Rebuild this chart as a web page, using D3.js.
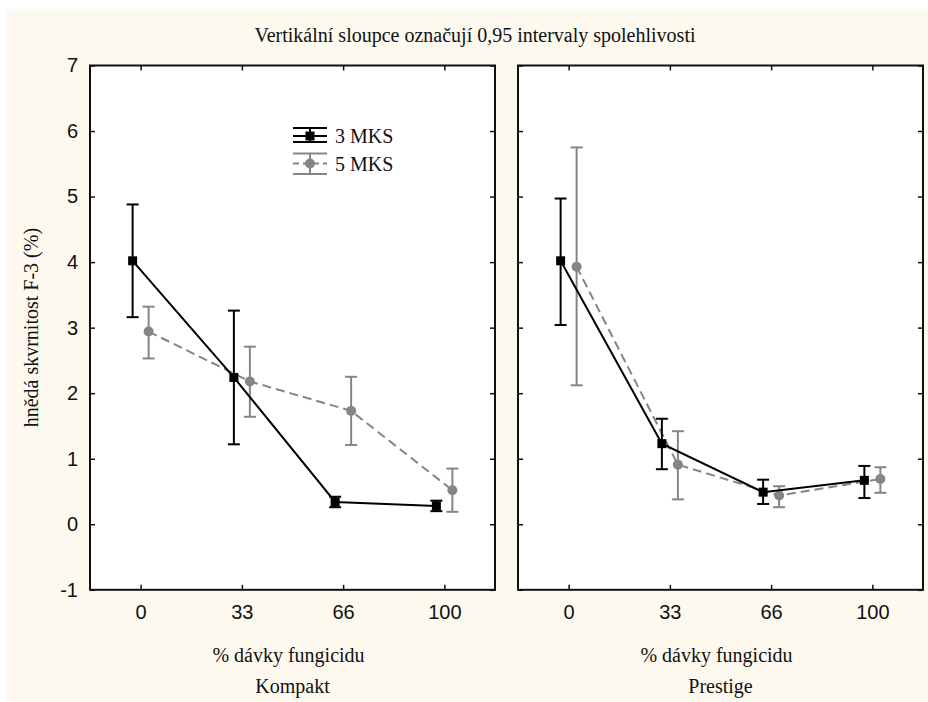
<!DOCTYPE html>
<html>
<head>
<meta charset="utf-8">
<script src="https://cdn.jsdelivr.net/npm/d3@7"></script>
<style>
  body { margin: 0; background: #fff; }
  text { fill: #111; }
</style>
</head>
<body>
<svg id="chart" width="928" height="702"></svg>
<script>
// categories
var doses = ["0", "33", "66", "100"];
var panels = ["Kompakt", "Prestige"];
var series = ["3 MKS", "5 MKS"];
var yTicks = [-1, 0, 1, 2, 3, 4, 5, 6, 7];

// Kompakt - means and 0.95 CI bounds
var kompakt3Mean = [4.02, 2.24, 0.34, 0.28];
var kompakt3Lo   = [3.16, 1.22, 0.26, 0.20];
var kompakt3Hi   = [4.88, 3.26, 0.42, 0.36];
var kompakt5Mean = [2.94, 2.18, 1.73, 0.52];
var kompakt5Lo   = [2.53, 1.64, 1.21, 0.19];
var kompakt5Hi   = [3.32, 2.71, 2.25, 0.85];

// Prestige
var prestige3Mean = [4.02, 1.23, 0.49, 0.67];
var prestige3Lo   = [3.04, 0.84, 0.31, 0.40];
var prestige3Hi   = [4.97, 1.61, 0.68, 0.89];
var prestige5Mean = [3.93, 0.91, 0.44, 0.69];
var prestige5Lo   = [2.12, 0.38, 0.26, 0.48];
var prestige5Hi   = [5.75, 1.42, 0.58, 0.87];

var panelData = [
  { name: panels[0], s3: [kompakt3Mean, kompakt3Lo, kompakt3Hi], s5: [kompakt5Mean, kompakt5Lo, kompakt5Hi] },
  { name: panels[1], s3: [prestige3Mean, prestige3Lo, prestige3Hi], s5: [prestige5Mean, prestige5Lo, prestige5Hi] }
];

var svg = d3.select("#chart");
var serif = "'Liberation Serif', 'Times New Roman', serif";
var sans = "'Liberation Sans', Arial, sans-serif";

//cream background
svg.append("rect").attr("x", 7).attr("y", 9).attr("width", 921).attr("height", 693).attr("fill", "#fdf9ef");

var plotTop = 65.5, plotBottom = 589.8, pw = 405;
var panelX = [90, 518];
var gray = "#858585";

var y = d3.scaleLinear().domain([-1, 7]).range([plotBottom, plotTop]);

//title
svg.append("text").attr("x", 475).attr("y", 42).attr("text-anchor", "middle")
  .style("font-family", serif).style("font-size", "20px")
  .text("Vertikální sloupce označují 0,95 intervaly spolehlivosti");

//y axis title
svg.append("text").attr("transform", "translate(38," + ((plotTop + plotBottom) / 2) + ") rotate(-90)")
  .attr("text-anchor", "middle")
  .style("font-family", serif).style("font-size", "20px")
  .text("hnědá skvrnitost F-3 (%)");

panelData.forEach(function(p, pi) {
  var x = d3.scalePoint().domain(doses).range([0, pw]).padding(0.5);
  var g = svg.append("g").attr("transform", "translate(" + panelX[pi] + ",0)");

  g.append("rect").attr("x", 0).attr("y", plotTop).attr("width", pw).attr("height", plotBottom - plotTop).attr("fill", "#fff");

  //axes with inward ticks
  var left = g.append("g").call(d3.axisLeft(y).tickValues(yTicks).tickFormat(String)
    .tickSizeInner(-5).tickSizeOuter(0).tickPadding(12));
  var rightAx = g.append("g").attr("transform", "translate(" + pw + ",0)")
    .call(d3.axisRight(y).tickValues(yTicks).tickSizeInner(-5).tickSizeOuter(0).tickFormat(""));
  var bot = g.append("g").attr("transform", "translate(0," + plotBottom + ")")
    .call(d3.axisBottom(x).tickSizeInner(-5).tickSizeOuter(0).tickPadding(15));
  var topAx = g.append("g").attr("transform", "translate(0," + plotTop + ")")
    .call(d3.axisTop(x).tickSizeInner(-5).tickSizeOuter(0).tickFormat(""));
  if (pi == 1) left.selectAll("text").remove();

  [left, rightAx, bot, topAx].forEach(function(a) {
    a.select(".domain").remove();
    a.selectAll("line").attr("stroke", "#111").attr("stroke-width", 1.5);
    a.selectAll("text").style("font-family", sans).style("font-size", "20px").attr("fill", "#111");
  });

  //frame
  g.append("rect").attr("x", 0).attr("y", plotTop).attr("width", pw).attr("height", plotBottom - plotTop)
    .attr("fill", "none").attr("stroke", "#111").attr("stroke-width", 2);

  //x axis title and panel name
  g.append("text").attr("x", pw / 2 - 4).attr("y", 662).attr("text-anchor", "middle")
    .style("font-family", serif).style("font-size", "20px").text("% dávky fungicidu");
  g.append("text").attr("x", pw / 2).attr("y", 693).attr("text-anchor", "middle")
    .style("font-family", serif).style("font-size", "20px").text(p.name);

  //series: draw 5 MKS first, then 3 MKS on top
  var specs = [
    { d: p.s5, color: gray, off: 8, dash: "9,5", marker: "circle" },
    { d: p.s3, color: "#000", off: -8, dash: null, marker: "square" }
  ];
  specs.forEach(function(s) {
    var pts = doses.map(function(k, i) {
      return { x: x(k) + s.off, m: s.d[0][i], lo: s.d[1][i], hi: s.d[2][i] };
    });
    var line = d3.line().x(function(d) { return d.x; }).y(function(d) { return y(d.m); });
    g.append("path").datum(pts).attr("d", line).attr("fill", "none")
      .attr("stroke", s.color).attr("stroke-width", 2).attr("stroke-dasharray", s.dash);

    var eb = g.append("g").attr("stroke", s.color).attr("stroke-width", 2);
    eb.selectAll("line.v").data(pts).enter().append("line").attr("class", "v")
      .attr("x1", function(d) { return d.x; }).attr("x2", function(d) { return d.x; })
      .attr("y1", function(d) { return y(d.lo); }).attr("y2", function(d) { return y(d.hi); });
    eb.selectAll("line.hi").data(pts).enter().append("line").attr("class", "hi")
      .attr("x1", function(d) { return d.x - 6; }).attr("x2", function(d) { return d.x + 6; })
      .attr("y1", function(d) { return y(d.hi); }).attr("y2", function(d) { return y(d.hi); });
    eb.selectAll("line.lo").data(pts).enter().append("line").attr("class", "lo")
      .attr("x1", function(d) { return d.x - 6; }).attr("x2", function(d) { return d.x + 6; })
      .attr("y1", function(d) { return y(d.lo); }).attr("y2", function(d) { return y(d.lo); });

    if (s.marker == "circle") {
      g.selectAll(null).data(pts).enter().append("circle")
        .attr("cx", function(d) { return d.x; }).attr("cy", function(d) { return y(d.m); })
        .attr("r", 5).attr("fill", s.color);
    } else {
      g.selectAll(null).data(pts).enter().append("rect")
        .attr("x", function(d) { return d.x - 4.5; }).attr("y", function(d) { return y(d.m) - 4.5; })
        .attr("width", 9).attr("height", 9).attr("fill", s.color);
    }
  });

  //legend only in first panel
  if (pi == 0) {
    var lg = g.append("g").attr("transform", "translate(" + (293 - panelX[0]) + ",0)");
    var rows = [
      { label: series[0], color: "#000", cy: 136, t: 128, b: 142, dash: null, marker: "square" },
      { label: series[1], color: gray, cy: 163.5, t: 153.5, b: 174, dash: "6,4", marker: "circle" }
    ];
    rows.forEach(function(r) {
      var c = lg.append("g").attr("stroke", r.color).attr("stroke-width", 2);
      c.append("line").attr("x1", 0).attr("x2", 34).attr("y1", r.t).attr("y2", r.t);
      c.append("line").attr("x1", 0).attr("x2", 34).attr("y1", r.b).attr("y2", r.b);
      c.append("line").attr("x1", 0).attr("x2", 34).attr("y1", r.cy).attr("y2", r.cy).attr("stroke-dasharray", r.dash);
      c.append("line").attr("x1", 17).attr("x2", 17).attr("y1", r.t).attr("y2", r.b);
      if (r.marker == "square") {
        lg.append("rect").attr("x", 12.5).attr("y", r.cy - 4.5).attr("width", 9).attr("height", 9).attr("fill", r.color);
      } else {
        lg.append("circle").attr("cx", 17).attr("cy", r.cy).attr("r", 5).attr("fill", r.color);
      }
      lg.append("text").attr("x", 42).attr("y", r.cy + 7)
        .style("font-family", serif).style("font-size", "20px").text(r.label);
    });
  }
});
</script>
</body>
</html>
